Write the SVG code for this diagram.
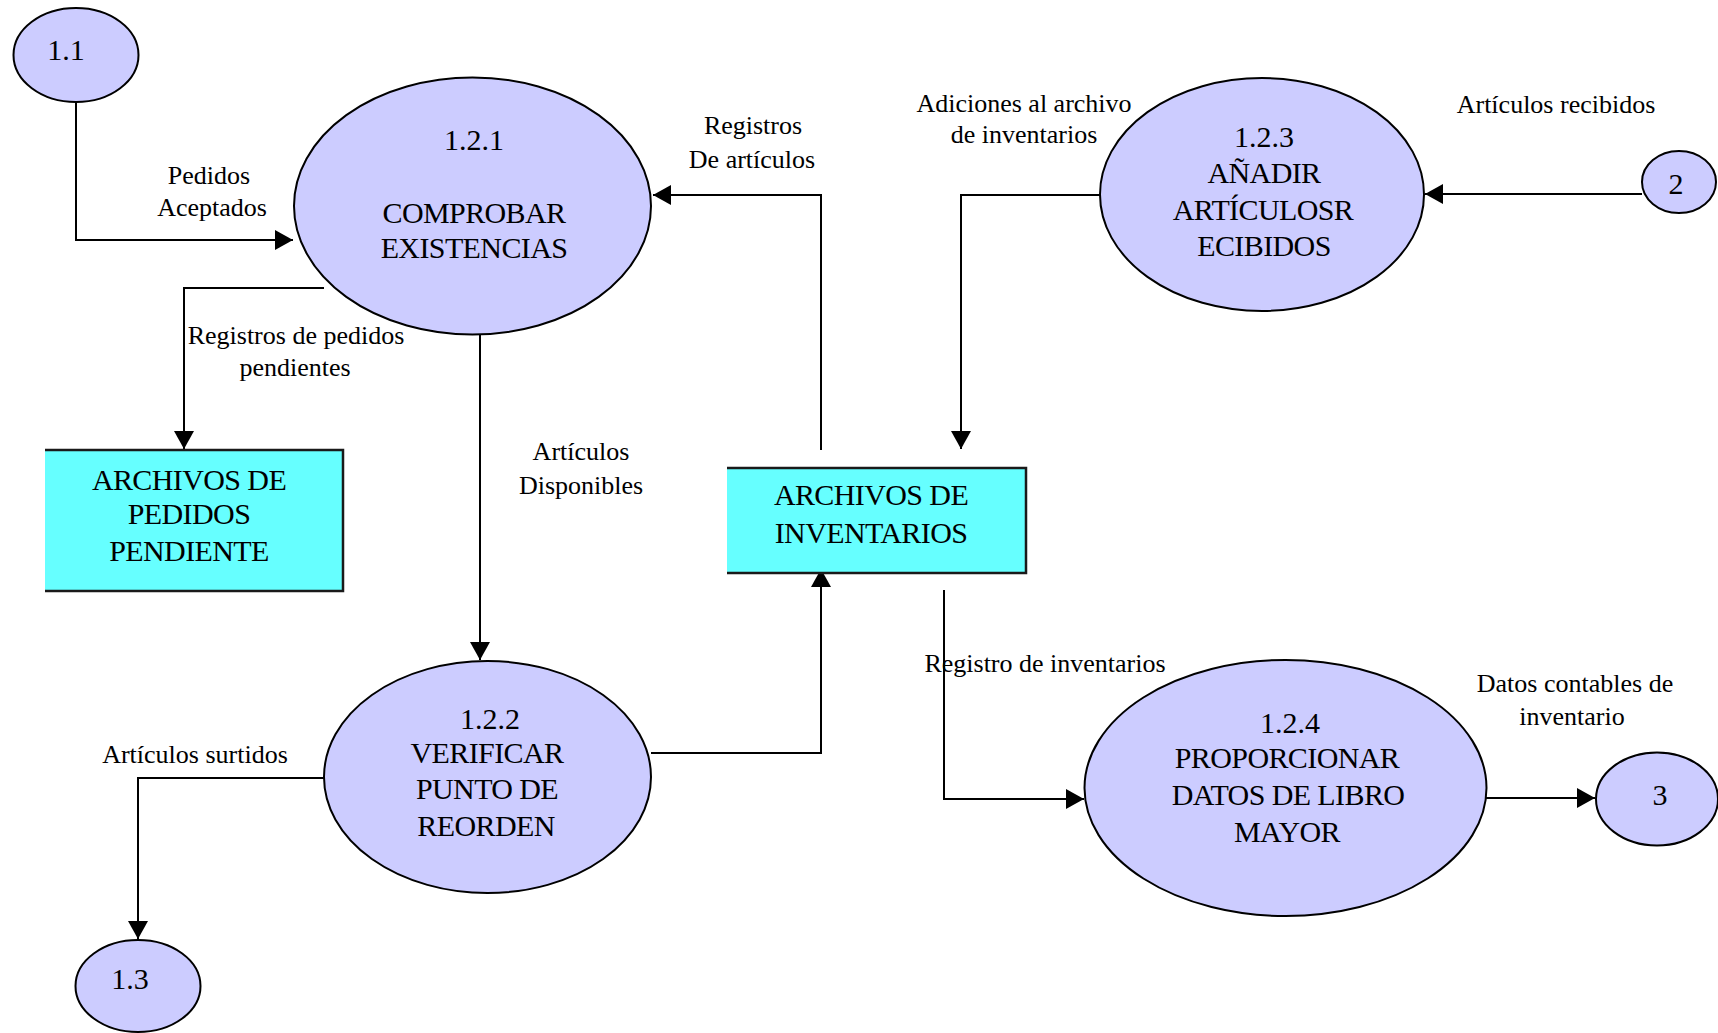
<svg xmlns="http://www.w3.org/2000/svg" width="1718" height="1033" viewBox="0 0 1718 1033">
  <style>
    .proc { fill: #CCCCFF; stroke: #000; stroke-width: 2; }
    .store { fill: #66FFFF; }
    .store-edge { fill: none; stroke: #1a1a1a; stroke-width: 2.5; }
    .flow { fill: none; stroke: #000; stroke-width: 2; }
    .arrow { marker-end: url(#head); }
    text { font-family: "Liberation Serif", "Times New Roman", serif; fill: #000; }
    .name { font-size: 30px; text-anchor: middle; letter-spacing: -0.6px; }
    .num { font-size: 30px; text-anchor: middle; }
    .label { font-size: 26px; text-anchor: middle; }
  </style>
  <defs>
    <marker id="head" markerUnits="userSpaceOnUse" markerWidth="18" markerHeight="20" viewBox="0 0 18 20" refX="18" refY="10" orient="auto">
      <path d="M0,0 L18,10 L0,20 Z" fill="#000"/>
    </marker>
  </defs>

  <rect width="1718" height="1033" fill="#fff"/>

  <!-- data flows -->
  <g id="connectors">
    <path class="flow arrow" d="M76,102 V240 H293"/>
    <path class="flow arrow" d="M324,288 H184 V449"/>
    <path class="flow arrow" d="M480,335 V660"/>
    <path class="flow arrow" d="M324,778 H138 V939"/>
    <path class="flow arrow" d="M651,753 H821 V569"/>
    <path class="flow arrow" d="M821,450 V195 H653"/>
    <path class="flow arrow" d="M1100,195 H961 V449"/>
    <path class="flow arrow" d="M1642,194 H1425"/>
    <path class="flow arrow" d="M944,590 V799 H1084"/>
    <path class="flow arrow" d="M1486,798 H1595"/>

    <text class="label" x="209" y="184">Pedidos</text>
    <text class="label" x="212" y="216">Aceptados</text>
    <text class="label" x="296" y="344">Registros de pedidos</text>
    <text class="label" x="295" y="376">pendientes</text>
    <text class="label" x="581" y="460">Artículos</text>
    <text class="label" x="581" y="494">Disponibles</text>
    <text class="label" x="195" y="763">Artículos surtidos</text>
    <text class="label" x="753" y="134">Registros</text>
    <text class="label" x="752" y="168">De artículos</text>
    <text class="label" x="1024" y="112">Adiciones al archivo</text>
    <text class="label" x="1024" y="143">de inventarios</text>
    <text class="label" x="1556" y="113">Artículos recibidos</text>
    <text class="label" x="1045" y="672">Registro de inventarios</text>
    <text class="label" x="1575" y="692">Datos contables de</text>
    <text class="label" x="1572" y="725">inventario</text>
  </g>

  <!-- external entities -->
  <g id="ext-1-1">
    <ellipse class="proc" cx="76" cy="55" rx="62.5" ry="47"/>
    <text class="num" x="66" y="60">1.1</text>
  </g>
  <g id="ext-1-3">
    <ellipse class="proc" cx="138" cy="986" rx="62.5" ry="46"/>
    <text class="num" x="130" y="989">1.3</text>
  </g>
  <g id="ext-2">
    <ellipse class="proc" cx="1679" cy="182" rx="37" ry="31"/>
    <text class="num" x="1676" y="194">2</text>
  </g>
  <g id="ext-3">
    <ellipse class="proc" cx="1657" cy="799" rx="61" ry="46.5"/>
    <text class="num" x="1660" y="805">3</text>
  </g>

  <!-- processes -->
  <g id="proc-1-2-1">
    <ellipse class="proc" cx="472.5" cy="206" rx="178.5" ry="128.5"/>
    <text class="num" x="474" y="150">1.2.1</text>
    <text class="name" x="474" y="223">COMPROBAR</text>
    <text class="name" x="474" y="258">EXISTENCIAS</text>
  </g>
  <g id="proc-1-2-2">
    <ellipse class="proc" cx="487.5" cy="777" rx="163.5" ry="116"/>
    <text class="num" x="490" y="729">1.2.2</text>
    <text class="name" x="487" y="763">VERIFICAR</text>
    <text class="name" x="487" y="799">PUNTO DE</text>
    <text class="name" x="486" y="836">REORDEN</text>
  </g>
  <g id="proc-1-2-3">
    <ellipse class="proc" cx="1262" cy="194.5" rx="162" ry="116.5"/>
    <text class="num" x="1264" y="147">1.2.3</text>
    <text class="name" x="1264" y="183">AÑADIR</text>
    <text class="name" x="1263" y="220">ARTÍCULOSR</text>
    <text class="name" x="1264" y="256">ECIBIDOS</text>
  </g>
  <g id="proc-1-2-4">
    <ellipse class="proc" cx="1285.5" cy="788" rx="201" ry="128"/>
    <text class="num" x="1290" y="733">1.2.4</text>
    <text class="name" x="1287" y="768">PROPORCIONAR</text>
    <text class="name" x="1288" y="805">DATOS DE LIBRO</text>
    <text class="name" x="1287" y="842">MAYOR</text>
  </g>

  <!-- data stores -->
  <g id="store-pedidos">
    <rect class="store" x="45" y="450" width="298" height="141"/>
    <path class="store-edge" d="M45,450 H343 V591 H45"/>
    <text class="name" x="189" y="490">ARCHIVOS DE</text>
    <text class="name" x="189" y="524">PEDIDOS</text>
    <text class="name" x="189" y="561">PENDIENTE</text>
  </g>
  <g id="store-inventarios">
    <rect class="store" x="727" y="468" width="299" height="105"/>
    <path class="store-edge" d="M727,468 H1026 V573 H727"/>
    <text class="name" x="871" y="505">ARCHIVOS DE</text>
    <text class="name" x="871" y="543">INVENTARIOS</text>
  </g>
</svg>
